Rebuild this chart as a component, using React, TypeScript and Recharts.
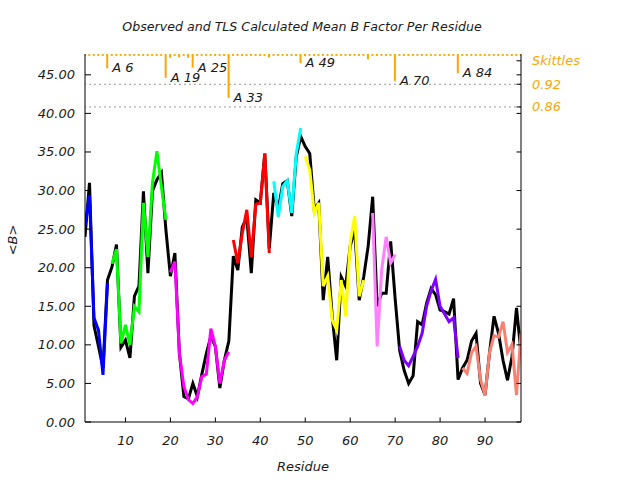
import React from 'react';
import { ComposedChart, Line, Bar, XAxis, YAxis, ReferenceLine, LabelList } from 'recharts';

const title = 'Observed and TLS Calculated Mean B Factor Per Residue';

// residue numbers 1..98
const residues = Array.from({ length: 98 }, (_, i) => i + 1);

const xTicks = [10, 20, 30, 40, 50, 60, 70, 80, 90];
const yTicks = [0, 5, 10, 15, 20, 25, 30, 35, 40, 45];
const skTicks = [0.86, 0.92, 0.982];
const skTickLabels = ['0.86', '0.92', 'Skittles'];

// observed <B> per residue (black)
const observedB = [
  24.0, 31.0, 12.5, 9.8, 7.0, 18.4, 20.1, 23.0, 9.7, 10.6,
  8.3, 16.3, 17.6, 29.9, 19.3, 29.9, 31.4, 32.3, 24.9, 18.9,
  21.9, 8.9, 3.3, 3.0, 5.0, 3.3, 6.2, 8.9, 11.1, 9.8,
  4.4, 8.0, 10.5, 21.5, 19.7, 25.3, 26.5, 19.3, 28.8, 28.4,
  34.8, 22.5, 29.7, 27.6, 30.9, 31.3, 26.7, 34.4, 37.0, 35.7,
  34.8, 27.6, 28.4, 15.8, 21.4, 13.7, 8.0, 18.8, 17.6, 22.8,
  24.9, 15.8, 18.8, 22.8, 29.2, 15.0, 16.7, 16.7, 23.4, 16.0,
  9.3, 6.7, 5.0, 6.0, 13.0, 12.6, 15.4, 17.3, 16.5, 14.5,
  14.3, 14.0, 16.0, 5.5, 7.0, 8.0, 10.5, 11.5, 5.0, 3.5,
  9.0, 13.7, 11.5, 8.0, 5.4, 8.5, 14.8, 9.0,
];

// TLS calculated <B>, one array per TLS group
const blueB = [25.3, 29.4, 13.5, 11.9, 6.1, 18.0];
const greenB = [20.5, 22.4, 10.2, 12.6, 10.0, 15.0, 14.3, 28.4, 21.4, 31.0, 35.1, 30.5, 26.2];
const magentaB = [19.4, 20.8, 8.9, 4.6, 2.9, 2.4, 3.3, 5.9, 6.2, 12.1, 9.8, 5.0, 8.0, 9.1];
const redB = [23.6, 20.6, 24.5, 27.5, 21.4, 28.2, 28.4, 34.8, 21.9];
const cyanB = [31.2, 26.6, 30.5, 31.3, 27.1, 34.8, 38.1];
const yellowB = [34.4, 32.7, 27.1, 28.4, 17.6, 18.9, 13.2, 11.9, 18.4, 13.7, 23.2, 26.7, 16.3, 18.4];
const violetB = [27.1, 9.8, 19.7, 24.0, 20.6, 21.7];
const purpleB = [9.8, 8.0, 7.3, 8.5, 9.8, 11.5, 15.0, 17.0, 18.5, 15.0, 14.0, 13.0, 13.5, 8.3];
const salmonB = [7.0, 6.3, 9.0, 9.8, 5.5, 3.5, 9.0, 11.2, 11.0, 13.0, 9.0, 10.0, 3.5, 11.5];

const groupStarts = [1, 7, 20, 34, 43, 50, 65, 71, 85];

// skittles per residue (bars hanging from the top)
const skittles = [
  0.995, 0.995, 0.995, 0.995, 0.995, 0.962, 0.995, 0.995, 0.995, 0.995,
  0.995, 0.995, 0.995, 0.995, 0.995, 0.995, 0.995, 0.995, 0.937, 0.990,
  0.995, 0.991, 0.995, 0.990, 0.964, 0.995, 0.995, 0.995, 0.995, 0.995,
  0.995, 0.995, 0.884, 0.995, 0.995, 0.995, 0.995, 0.995, 0.995, 0.995,
  0.995, 0.991, 0.995, 0.995, 0.995, 0.995, 0.995, 0.995, 0.976, 0.995,
  0.995, 0.995, 0.995, 0.995, 0.995, 0.995, 0.995, 0.995, 0.995, 0.995,
  0.995, 0.995, 0.995, 0.986, 0.995, 0.995, 0.995, 0.995, 0.995, 0.929,
  0.995, 0.995, 0.995, 0.995, 0.995, 0.995, 0.995, 0.995, 0.995, 0.995,
  0.995, 0.995, 0.995, 0.949, 0.995, 0.995, 0.995, 0.995, 0.995, 0.995,
  0.995, 0.995, 0.995, 0.995, 0.995, 0.995, 0.995, 0.995,
];
const tagResidues = [6, 19, 25, 33, 49, 70, 84];

const segments = [
  { key: 'blue', color: '#0000ff', values: blueB },
  { key: 'green', color: '#00ff00', values: greenB },
  { key: 'magenta', color: '#ff00ff', values: magentaB },
  { key: 'red', color: '#ff0000', values: redB },
  { key: 'cyan', color: '#00ffff', values: cyanB },
  { key: 'yellow', color: '#ffff00', values: yellowB },
  { key: 'violet', color: '#ff80ff', values: violetB },
  { key: 'purple', color: '#8000ff', values: purpleB },
  { key: 'salmon', color: '#fa8072', values: salmonB },
].map((s, i) => ({ ...s, start: groupStarts[i] }));

const rows = residues.map((res, i) => {
  const row: any = {
    res,
    obs: observedB[i],
    skit: [skittles[i], 1],
    tag: tagResidues.includes(res) ? `A ${res}` : null,
  };
  segments.forEach((s) => {
    const j = res - s.start;
    row[s.key] = j >= 0 && j < s.values.length ? s.values[j] : null;
  });
  return row;
});

const ORANGE = '#ffa500';
const TXT = '#1a1a1a';
const FS = 13;
const CHART_W = 640;
const RIGHT_W = 119;
const PLOT_RIGHT = CHART_W - RIGHT_W;

// left tick: inward tick on both frame sides + label
const LeftTick = ({ x, y, payload }: any) => (
  <g>
    <line x1={x} y1={y} x2={x + 6} y2={y} stroke="#000" />
    <line x1={PLOT_RIGHT} y1={y} x2={PLOT_RIGHT - 4.5} y2={y} stroke="#000" />
    <text x={x - 10} y={y + 4.5} textAnchor="end" fontSize={FS} fontStyle="italic" fill={TXT}>
      {Number(payload.value).toFixed(2)}
    </text>
  </g>
);

const SkTick = ({ x, y, payload }: any) => {
  const k = skTicks.indexOf(payload.value);
  return (
    <g>
      <line x1={x} y1={y} x2={x - 4.5} y2={y} stroke="#000" />
      <text x={x + 11} y={y + 4.5} fontSize={FS} fontStyle="italic" fill={ORANGE}>
        {k >= 0 ? skTickLabels[k] : payload.value}
      </text>
    </g>
  );
};

const BottomTick = ({ x, y, payload }: any) => (
  <g>
    <line x1={x} y1={y} x2={x} y2={y - 4.5} stroke="#000" />
    <text x={x} y={y + 23} textAnchor="middle" fontSize={FS} fontStyle="italic" fill={TXT}>
      {payload.value}
    </text>
  </g>
);

const TopTick = ({ x, y }: any) => (
  <line x1={x} y1={y} x2={x} y2={y + 4} stroke="#000" />
);

const TagLabel = (props: any) => {
  const { x, y, width, height, value } = props;
  if (!value) return null;
  return (
    <text x={x + width + 4} y={y + height + 4} fontSize={FS} fontStyle="italic" fill={TXT}>
      {value}
    </text>
  );
};

const YLabel = ({ viewBox }: any) => {
  const cx = viewBox.x + 17;
  const cy = 240;
  return (
    <text x={cx} y={cy} transform={`rotate(-90, ${cx}, ${cy})`} textAnchor="middle" fontSize={FS} fontStyle="italic" fill={TXT}>
      {'<B>'}
    </text>
  );
};

export default function App() {
  return (
    <div style={{ position: 'absolute', left: 0, top: 0, width: 640, height: 480, background: '#fff' }}>
      <div
        style={{
          position: 'absolute',
          left: 0,
          top: 18.7,
          width: 604,
          textAlign: 'center',
          fontFamily: 'DejaVu Sans',
          fontStyle: 'italic',
          fontSize: 12.6,
          lineHeight: '15px',
          color: TXT,
        }}
      >
        {title}
      </div>
      <ComposedChart
        width={CHART_W}
        height={480}
        data={rows}
        margin={{ top: 54, right: 0, bottom: 0, left: 0 }}
        style={{ fontFamily: 'DejaVu Sans' }}
      >
        <XAxis
          xAxisId="b"
          dataKey="res"
          type="number"
          domain={[1, 98]}
          allowDataOverflow
          ticks={xTicks}
          interval={0}
          height={58}
          tickSize={0}
          tickMargin={0}
          tickLine={false}
          tick={BottomTick}
          axisLine={{ stroke: '#000' }}
          label={{ value: 'Residue', position: 'insideBottom', offset: 9, fontSize: FS, fontStyle: 'italic', fill: TXT }}
        />
        <XAxis
          xAxisId="t"
          orientation="top"
          dataKey="res"
          type="number"
          domain={[1, 98]}
          allowDataOverflow
          ticks={xTicks}
          interval={0}
          height={0}
          tickSize={0}
          tickMargin={0}
          tickLine={false}
          tick={TopTick}
          axisLine={{ stroke: '#000' }}
        />
        <YAxis
          yAxisId="b"
          domain={[0, 47.7]}
          allowDataOverflow
          ticks={yTicks}
          interval={0}
          width={85}
          tickSize={0}
          tickMargin={0}
          tickLine={false}
          tick={LeftTick}
          axisLine={{ stroke: '#000' }}
          label={{ content: YLabel }}
        />
        <YAxis
          yAxisId="sk"
          orientation="right"
          domain={[0.027, 1]}
          allowDataOverflow
          ticks={skTicks}
          interval={0}
          width={RIGHT_W}
          tickSize={0}
          tickMargin={0}
          tickLine={false}
          tick={SkTick}
          axisLine={{ stroke: '#000' }}
        />
        <ReferenceLine xAxisId="b" yAxisId="sk" y={0.92} stroke="#999" strokeDasharray="2 3" />
        <ReferenceLine xAxisId="b" yAxisId="sk" y={0.86} stroke="#999" strokeDasharray="2 3" />
        <Line
          xAxisId="b"
          yAxisId="b"
          dataKey="obs"
          stroke="#000"
          strokeWidth={3}
          dot={false}
          isAnimationActive={false}
        />
        {segments.map((s) => (
          <Line
            key={s.key}
            xAxisId="b"
            yAxisId="b"
            dataKey={s.key}
            stroke={s.color}
            strokeWidth={3}
            dot={false}
            isAnimationActive={false}
          />
        ))}
        <Bar xAxisId="b" yAxisId="sk" dataKey="skit" fill={ORANGE} barSize={2} isAnimationActive={false}>
          <LabelList dataKey="tag" content={TagLabel} />
        </Bar>
      </ComposedChart>
    </div>
  );
}
